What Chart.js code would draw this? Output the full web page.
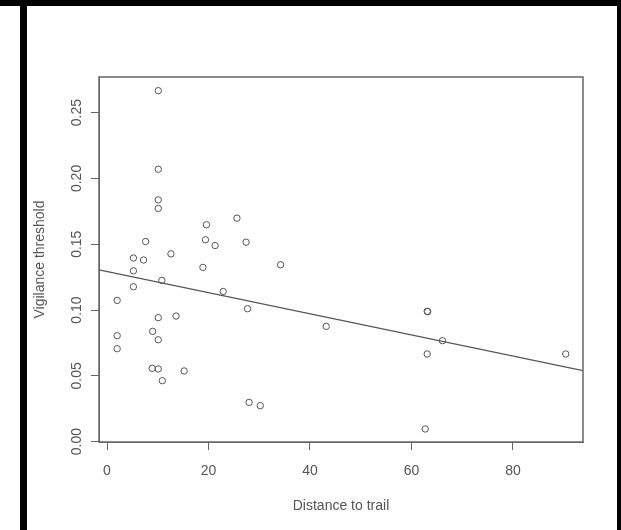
<!DOCTYPE html>
<html>
<head>
<meta charset="utf-8">
<script src="https://cdn.jsdelivr.net/npm/chart.js@4.4.0/dist/chart.umd.min.js"></script>
<style>
  html, body { margin: 0; padding: 0; background: #ffffff; }
  #wrap { position: relative; width: 621px; height: 530px; overflow: hidden; background: #ffffff; }
  #c { position: absolute; left: 0; top: 0; }
  .bar { position: absolute; background: #000000; }
</style>
</head>
<body>
<div id="wrap">
  <canvas id="c" width="621" height="530"></canvas>
  <div class="bar" style="left:0;top:0;width:621px;height:6px;"></div>
  <div class="bar" style="left:20px;top:0;width:7px;height:530px;"></div>
  <div class="bar" style="left:617px;top:0;width:4px;height:530px;"></div>
</div>
<script>
// ---- data ----
const distX = [10.1, 10.1, 10.1, 10.1, 19.6, 25.6, 7.6, 19.4, 21.3, 27.4,
               12.6, 5.2, 7.2, 18.9, 5.2, 10.8, 5.2, 22.9, 2.0, 27.7,
               10.1, 13.6, 2.0, 9.0, 10.1, 2.0, 8.9, 10.1, 15.2, 10.9,
               28.0, 30.2, 34.2, 43.2, 63.1, 63.2, 66.1, 63.1, 62.7, 90.4];
const vigY  = [0.2667, 0.2070, 0.1837, 0.1772, 0.1648, 0.1698, 0.1521, 0.1534, 0.1490, 0.1516,
               0.1427, 0.1395, 0.1380, 0.1324, 0.1298, 0.1225, 0.1177, 0.1141, 0.1073, 0.1010,
               0.0942, 0.0954, 0.0805, 0.0838, 0.0774, 0.0706, 0.0557, 0.0552, 0.0537, 0.0463,
               0.0298, 0.0273, 0.1344, 0.0876, 0.0990, 0.0988, 0.0767, 0.0666, 0.0096, 0.0666];
// fitted line (endpoints at plot edges)
const lineX = [-1.58, 93.8];
const lineY = [0.1306, 0.0539];
// axis ticks
const xTicks = [0, 20, 40, 60, 80];
const yTicks = [0.00, 0.05, 0.10, 0.15, 0.20, 0.25];
const xRange = [-1.58, 93.8];
const yRange = [-0.0003, 0.2771];

const ink = '#555555';
const frame = '#666666';

Chart.defaults.font.family = '"Liberation Sans", Arial, sans-serif';
Chart.defaults.font.size = 14;
Chart.defaults.color = ink;

const boxPlugin = {
  id: 'box',
  afterDraw(chart) {
    const a = chart.chartArea, ctx = chart.ctx;
    ctx.save();
    ctx.strokeStyle = frame;
    ctx.lineWidth = 1.5;
    ctx.strokeRect(a.left, a.top, a.right - a.left, a.bottom - a.top);
    ctx.restore();
  }
};

new Chart(document.getElementById('c'), {
  type: 'scatter',
  data: {
    datasets: [
      {
        data: distX.map((x, i) => ({ x: x, y: vigY[i] })),
        pointStyle: 'circle',
        pointRadius: 3.2,
        pointBorderWidth: 1,
        pointBorderColor: ink,
        pointBackgroundColor: 'rgba(0,0,0,0)',
        showLine: false
      },
      {
        type: 'line',
        data: lineX.map((x, i) => ({ x: x, y: lineY[i] })),
        borderColor: ink,
        borderWidth: 1.3,
        pointRadius: 0,
        fill: false
      }
    ]
  },
  options: {
    responsive: false,
    animation: false,
    layout: { padding: { top: 77, right: 38, left: 0, bottom: 0 } },
    plugins: { legend: { display: false }, tooltip: { enabled: false } },
    scales: {
      x: {
        type: 'linear',
        position: 'bottom',
        min: xRange[0], max: xRange[1],
        afterBuildTicks: (s) => { s.ticks = xTicks.map(v => ({ value: v })); },
        afterFit: (s) => { s.height = 88; },
        ticks: { autoSkip: false, padding: 13, color: ink, callback: (v) => String(v) },
        grid: { drawOnChartArea: false, drawTicks: true, tickLength: 8, color: frame, lineWidth: 1 },
        border: { display: true, color: frame, width: 1 },
        title: { display: true, text: 'Distance to trail', color: ink, padding: { top: 0, bottom: 15.6 } }
      },
      y: {
        type: 'linear',
        position: 'left',
        min: yRange[0], max: yRange[1],
        afterBuildTicks: (s) => { s.ticks = yTicks.map(v => ({ value: v })); },
        afterFit: (s) => { s.width = 99; },
        ticks: { autoSkip: false, minRotation: 90, maxRotation: 90, crossAlign: 'center', padding: 0.4, color: ink,
                 callback: (v) => Number(v).toFixed(2) },
        grid: { drawOnChartArea: false, drawTicks: true, tickLength: 8, color: frame, lineWidth: 1 },
        border: { display: true, color: frame, width: 1 },
        title: { display: true, text: 'Vigilance threshold', color: ink, padding: { top: 31.6, bottom: 0 } }
      }
    }
  },
  plugins: [boxPlugin]
});
</script>
</body>
</html>
